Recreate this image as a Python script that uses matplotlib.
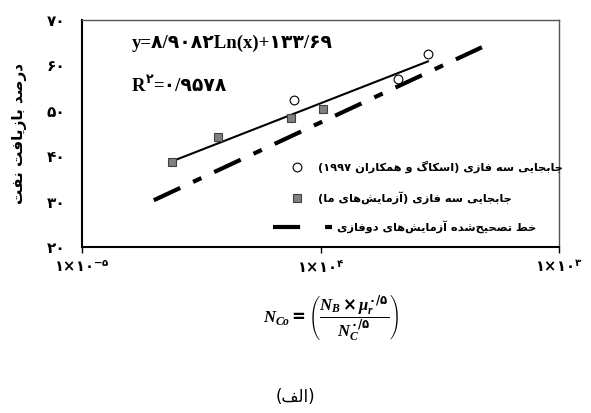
import numpy as np
import matplotlib
matplotlib.use("Agg")
import matplotlib.pyplot as plt

plt.rcParams['mathtext.fontset'] = 'custom'
plt.rcParams['mathtext.rm'] = 'DejaVu Sans:bold'
plt.rcParams['mathtext.bf'] = 'DejaVu Sans:bold'
plt.rcParams['mathtext.it'] = 'Liberation Serif:italic:bold'

# --- data ---
ours_x = [2.38e-5, 3.72e-5, 7.52e-5, 1.02e-4]      # three-phase, our tests (squares)
ours_y = [38.7, 44.2, 48.4, 50.3]
skauge_x = [7.74e-5, 2.11e-4, 2.82e-4]             # three-phase, Skauge et al. 1997 (circles)
skauge_y = [52.3, 57.1, 62.6]
two_phase_x = [2.0e-5, 4.75e-4]                    # corrected two-phase line
two_phase_y = [30.3, 64.0]
fit_a = 8.9082                                     # y = a*Ln(x) + b
fit_b = 133.69
fit_r2 = 0.9578
y_ticks = [20, 30, 40, 50, 60, 70]
x_ticks = [1e-5, 1e-4, 1e-3]
x_tick_sup = ['-۵', '۴', '۳']

lbl_skauge = 'جابجایی سه فازی (اسکاگ و همکاران ۱۹۹۷)'
lbl_ours = 'جابجایی سه فازی (آزمایش\u200cهای ما)'
lbl_two = 'خط تصحیح\u200cشده آزمایش\u200cهای دوفازی'
y_title = 'درصد بازیافت نفت'
caption = '(الف)'

# --- minimal persian shaping (matplotlib has no shaping / bidi) ---
# isolated, final, initial, medial
FORMS = {
    'ا': (0xFE8D, 0xFE8E, None, None), 'آ': (0xFE81, 0xFE82, None, None),
    'د': (0xFEA9, 0xFEAA, None, None), 'ذ': (0xFEAB, 0xFEAC, None, None),
    'ر': (0xFEAD, 0xFEAE, None, None), 'ز': (0xFEAF, 0xFEB0, None, None),
    'ژ': (0xFB8A, 0xFB8B, None, None), 'و': (0xFEED, 0xFEEE, None, None),
    'ب': (0xFE8F, 0xFE90, 0xFE91, 0xFE92), 'پ': (0xFB56, 0xFB57, 0xFB58, 0xFB59),
    'ت': (0xFE95, 0xFE96, 0xFE97, 0xFE98), 'ج': (0xFE9D, 0xFE9E, 0xFE9F, 0xFEA0),
    'چ': (0xFB7A, 0xFB7B, 0xFB7C, 0xFB7D), 'ح': (0xFEA1, 0xFEA2, 0xFEA3, 0xFEA4),
    'خ': (0xFEA5, 0xFEA6, 0xFEA7, 0xFEA8), 'س': (0xFEB1, 0xFEB2, 0xFEB3, 0xFEB4),
    'ش': (0xFEB5, 0xFEB6, 0xFEB7, 0xFEB8), 'ص': (0xFEB9, 0xFEBA, 0xFEBB, 0xFEBC),
    'ض': (0xFEBD, 0xFEBE, 0xFEBF, 0xFEC0), 'ط': (0xFEC1, 0xFEC2, 0xFEC3, 0xFEC4),
    'ظ': (0xFEC5, 0xFEC6, 0xFEC7, 0xFEC8), 'ع': (0xFEC9, 0xFECA, 0xFECB, 0xFECC),
    'غ': (0xFECD, 0xFECE, 0xFECF, 0xFED0), 'ف': (0xFED1, 0xFED2, 0xFED3, 0xFED4),
    'ق': (0xFED5, 0xFED6, 0xFED7, 0xFED8), 'ک': (0xFB8E, 0xFB8F, 0xFB90, 0xFB91),
    'گ': (0xFB92, 0xFB93, 0xFB94, 0xFB95), 'ل': (0xFEDD, 0xFEDE, 0xFEDF, 0xFEE0),
    'م': (0xFEE1, 0xFEE2, 0xFEE3, 0xFEE4), 'ن': (0xFEE5, 0xFEE6, 0xFEE7, 0xFEE8),
    'ه': (0xFEE9, 0xFEEA, 0xFEEB, 0xFEEC), 'ی': (0xFBFC, 0xFBFD, 0xFBFE, 0xFBFF),
}
MIRROR = {'(': ')', ')': '('}


def fa_digits(s):
    return s.translate(str.maketrans('0123456789.', '۰۱۲۳۴۵۶۷۸۹/'))


def rtl(s):
    out = []
    for i, c in enumerate(s):
        if c == '\u200c':
            continue
        if c not in FORMS:
            out.append(c)
            continue
        prev = s[i - 1] if i > 0 else ''
        nxt = s[i + 1] if i + 1 < len(s) else ''
        jp = prev in FORMS and FORMS[prev][2] is not None
        jn = nxt in FORMS and FORMS[c][2] is not None
        f = FORMS[c]
        code = f[3] if (jp and jn) else f[1] if jp else f[2] if jn else f[0]
        out.append(chr(code))
    # visual order: reverse, keep digit runs LTR, mirror brackets
    vis = ''.join(out)[::-1]
    res, run = '', ''
    for c in vis:
        if c in '۰۱۲۳۴۵۶۷۸۹':
            run += c
        else:
            res += run[::-1] + MIRROR.get(c, c)
            run = ''
    return res + run[::-1]


fig = plt.figure(figsize=(5.91, 4.13), dpi=100)
ax = fig.add_axes([82 / 591, 1 - 247 / 413, 477 / 591, 227 / 413])

# fitted trendline over the data range
all_x = ours_x + skauge_x
fit_x = np.array([min(all_x), max(all_x)])
ax.plot(fit_x, fit_a * np.log(fit_x) + fit_b, color='black', lw=1.5)

ax.plot(two_phase_x, two_phase_y, color='black', lw=3,
        dashes=(7, 3.4, 2.2, 3.4), dash_capstyle='butt')
ax.plot(ours_x, ours_y, 's', ms=6.3, mfc='#808080', mec='#404040', mew=0.8)
ax.plot(skauge_x, skauge_y, 'o', ms=6.3, mfc='white', mec='black', mew=0.8)

ax.set_xscale('log')
ax.set_xlim(1e-5, 1e-3)
ax.set_ylim(20, 70)
ax.set_xticks(x_ticks)
ax.set_xticklabels([r'$\mathbf{۱×۱۰}^{\mathbf{%s}}$' % s for s in x_tick_sup], fontsize=10.5)
ax.minorticks_off()
ax.set_yticks(y_ticks)
ax.set_yticklabels([fa_digits(str(v)) for v in y_ticks], fontsize=11, fontweight='bold')
ax.tick_params(axis='x', length=4, width=1, pad=5)
ax.tick_params(axis='y', length=0, pad=12)
for side in ['left', 'bottom']:
    ax.spines[side].set_linewidth(1.5)
for side in ['top', 'right']:
    ax.spines[side].set_color('#555555')
    ax.spines[side].set_linewidth(1)

ax.set_ylabel(rtl(y_title), fontsize=11, fontweight='bold')
ax.yaxis.set_label_coords(-55 / 477, 0.5)

# equation and R2
eq_font = dict(family=['Liberation Serif', 'DejaVu Sans'], weight='bold', fontsize=13.5)
ax.text(0.105, 0.899, 'y=' + fa_digits(str(fit_a)) + 'Ln(x)+' + fa_digits(str(fit_b)),
        transform=ax.transAxes, va='center', **eq_font)
t_r = ax.text(0.105, 0.705, 'R', transform=ax.transAxes, va='center', **eq_font)
sup = ax.annotate('۲', xy=(1.0, 0.55), xycoords=t_r, va='bottom', ha='left',
                  family=['Liberation Serif', 'DejaVu Sans'], weight='bold', fontsize=9)
ax.annotate('=' + fa_digits(str(fit_r2)), xy=(1.0, 0.0), xycoords=(sup, t_r),
            va='bottom', ha='left', **eq_font)

# legend drawn by hand (right-to-left layout)
leg_font = dict(family='DejaVu Sans', weight='bold', fontsize=8.2)
ax.plot([0.4507], [0.352], 'o', ms=6.3, mfc='white', mec='black', mew=0.8,
        transform=ax.transAxes)
ax.text(0.4948, 0.352, rtl(lbl_skauge), transform=ax.transAxes, va='center', **leg_font)
ax.plot([0.4507], [0.216], 's', ms=6.3, mfc='#808080', mec='#404040', mew=0.8,
        transform=ax.transAxes)
ax.text(0.4948, 0.216, rtl(lbl_ours), transform=ax.transAxes, va='center', **leg_font)
ax.plot([0.400, 0.524], [0.088, 0.088], color='black', lw=3, dashes=(6.5, 6, 1.7, 6),
        dash_capstyle='butt', transform=ax.transAxes)
ax.text(0.5346, 0.088, rtl(lbl_two), transform=ax.transAxes, va='center', **leg_font)

fig.text(331 / 591, 1 - 318 / 413,
         r'$N_{Co}=\left(\dfrac{N_B\times\mu_r^{\mathrm{۰/۵}}}{N_C^{\mathrm{۰/۵}}}\right)$',
         ha='center', va='center', fontsize=12)
fig.text(295 / 591, 1 - 397 / 413, rtl(caption), ha='center', va='center',
         fontsize=12, family='DejaVu Sans')

fig.savefig('out.png', dpi=100)
